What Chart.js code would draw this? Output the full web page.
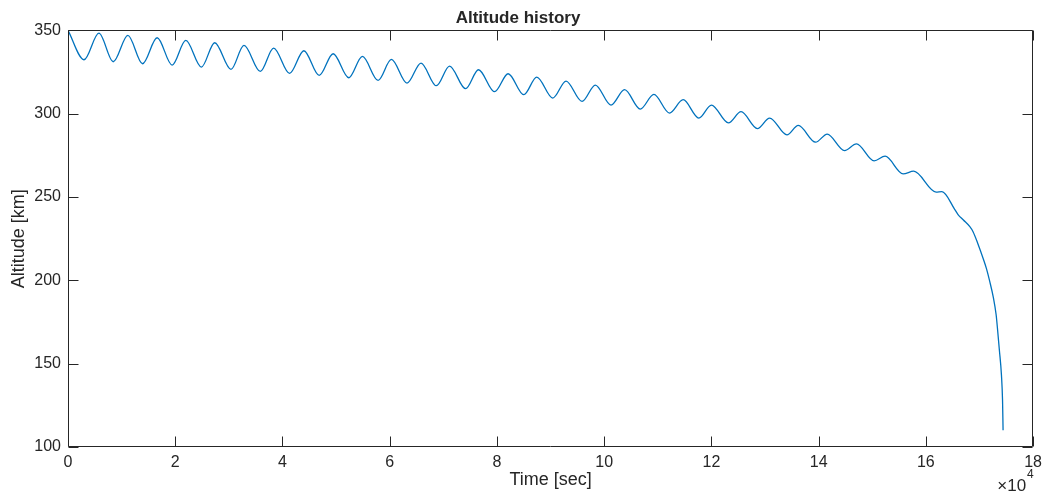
<!DOCTYPE html>
<html>
<head>
<meta charset="utf-8">
<script src="https://cdn.jsdelivr.net/npm/chart.js@4.4.1/dist/chart.umd.min.js"></script>
<style>
html,body{margin:0;padding:0;background:#fff}
canvas{display:block}
</style>
</head>
<body>
<canvas id="altChart" width="1048" height="496"></canvas>
<script>
// altitude history of the decaying orbit, sampled at the peaks and troughs
var timeSec=[0,2980,5770,8440,11170,13900,16630,19420,21970,24880,
  27360,30400,32820,35870,38350,41330,43990,46850,49450,52370,
  54910,57830,60310,63230,65840,68690,71170,74150,76570,79550,
  82090,85010,87430,90410,92890,95870,98350,101270,103810,106730,
  109270,112190,114730,117650,120000,123170,125530,128570,130870,134090,
  136200,139430,141600,144830,147060,150350,152400,155750,157730,161900,
  163000,165400,166000,167000,168200,168800,169700,170700,171300,171900,
  172600,173100,173400,173700,174100,174300,174400]
var altitudeKm=[350,332.4,348.4,331.2,347.0,330.0,345.6,329.2,344.0,328.0,
  342.6,326.6,341.0,325.4,339.4,324.2,337.8,323.0,336.0,321.6,
  334.4,320.0,332.6,318.4,330.4,316.8,328.6,315.0,326.4,313.2,
  324.0,311.4,322.0,309.4,319.6,307.4,317.2,305.2,314.4,302.8,
  311.6,300.4,308.4,297.4,305.2,294.5,301.2,291.1,297.4,287.3,
  293.0,282.9,287.8,277.9,281.9,271.7,274.5,263.9,265.5,253.0,
  253.2,242.5,239.5,236.2,232.2,229.2,222.0,213.0,207.0,199.5,
  189.5,179.5,169.5,158.5,143.0,128.0,110.0]
var xTicks=[0,2,4,6,8,10,12,14,16,18]   // x 10^4 sec
var yTicks=[100,150,200,250,300,350]

var axisColor="#262626"
var fontFamily="'Liberation Sans', Arial, Helvetica, sans-serif"

var points=[]
for(var i=0;i<timeSec.length;i++){
  points.push({x:timeSec[i],y:altitudeKm[i]})
}

// box around the axes with ticks pointing inwards, plus the x10^4 exponent
var boxPlugin={
  id:"boxPlugin",
  afterDraw:function(chart){
    var c=chart.ctx
    var a=chart.chartArea
    var xs=chart.scales.x
    var ys=chart.scales.y
    var L=Math.round(a.left)+0.5, R=Math.round(a.right)-0.5
    var T=Math.round(a.top)+0.5, B=Math.round(a.bottom)-0.5
    var len=10
    c.save()
    c.strokeStyle=axisColor
    c.lineWidth=1
    c.beginPath()
    c.rect(L,T,R-L,B-T)
    xs.ticks.forEach(function(t){
      var px=Math.round(xs.getPixelForValue(t.value))+0.5
      c.moveTo(px,B);c.lineTo(px,B-len)
      c.moveTo(px,T);c.lineTo(px,T+len)
    })
    ys.ticks.forEach(function(t){
      var py=Math.round(ys.getPixelForValue(t.value))+0.5
      c.moveTo(L,py);c.lineTo(L+len,py)
      c.moveTo(R,py);c.lineTo(R-len,py)
    })
    c.stroke()
    c.fillStyle=axisColor
    c.textBaseline="alphabetic"
    c.textAlign="right"
    c.font="17px "+fontFamily
    c.fillText("\u00d710",a.right-7,491)
    c.textAlign="left"
    c.font="12px "+fontFamily
    c.fillText("4",a.right-6,478)
    c.restore()
  }
}

var ctx=document.getElementById("altChart")
var altChart=new Chart(ctx,{
  type:"line",
  data:{
    datasets:[{
      label:"Altitude",
      data:points,
      borderColor:"#0072BD",
      borderWidth:1.3,
      pointRadius:0,
      fill:false,
      cubicInterpolationMode:"monotone"
    }]
  },
  options:{
    responsive:false,
    animation:false,
    layout:{padding:{left:0,right:12,top:0,bottom:0}},
    plugins:{
      legend:{display:false},
      tooltip:{enabled:false},
      title:{
        display:true,
        text:"Altitude history",
        color:axisColor,
        font:{family:fontFamily,size:17,weight:"bold"},
        padding:{top:8,bottom:2}
      }
    },
    scales:{
      x:{
        type:"linear",
        min:0,max:180000,
        grid:{display:false,drawTicks:false},
        border:{display:false},
        afterBuildTicks:function(s){s.ticks=xTicks.map(function(v){return {value:v*1e4}})},
        afterFit:function(s){s.height=49},
        ticks:{
          color:axisColor,
          font:{family:fontFamily,size:16},
          padding:6,
          maxRotation:0,
          callback:function(v){return v/1e4}
        },
        title:{
          display:true,
          text:"Time [sec]",
          color:axisColor,
          font:{family:fontFamily,size:18},
          padding:{top:0,bottom:5}
        }
      },
      y:{
        min:100,max:350,
        grid:{display:false,drawTicks:false},
        border:{display:false},
        afterBuildTicks:function(s){s.ticks=yTicks.map(function(v){return {value:v}})},
        afterFit:function(s){s.width=68},
        ticks:{
          color:axisColor,
          font:{family:fontFamily,size:16},
          padding:7
        },
        title:{
          display:true,
          text:"Altitude [km]",
          color:axisColor,
          font:{family:fontFamily,size:18},
          padding:{top:8,bottom:0}
        }
      }
    }
  },
  plugins:[boxPlugin]
})
</script>
</body>
</html>
